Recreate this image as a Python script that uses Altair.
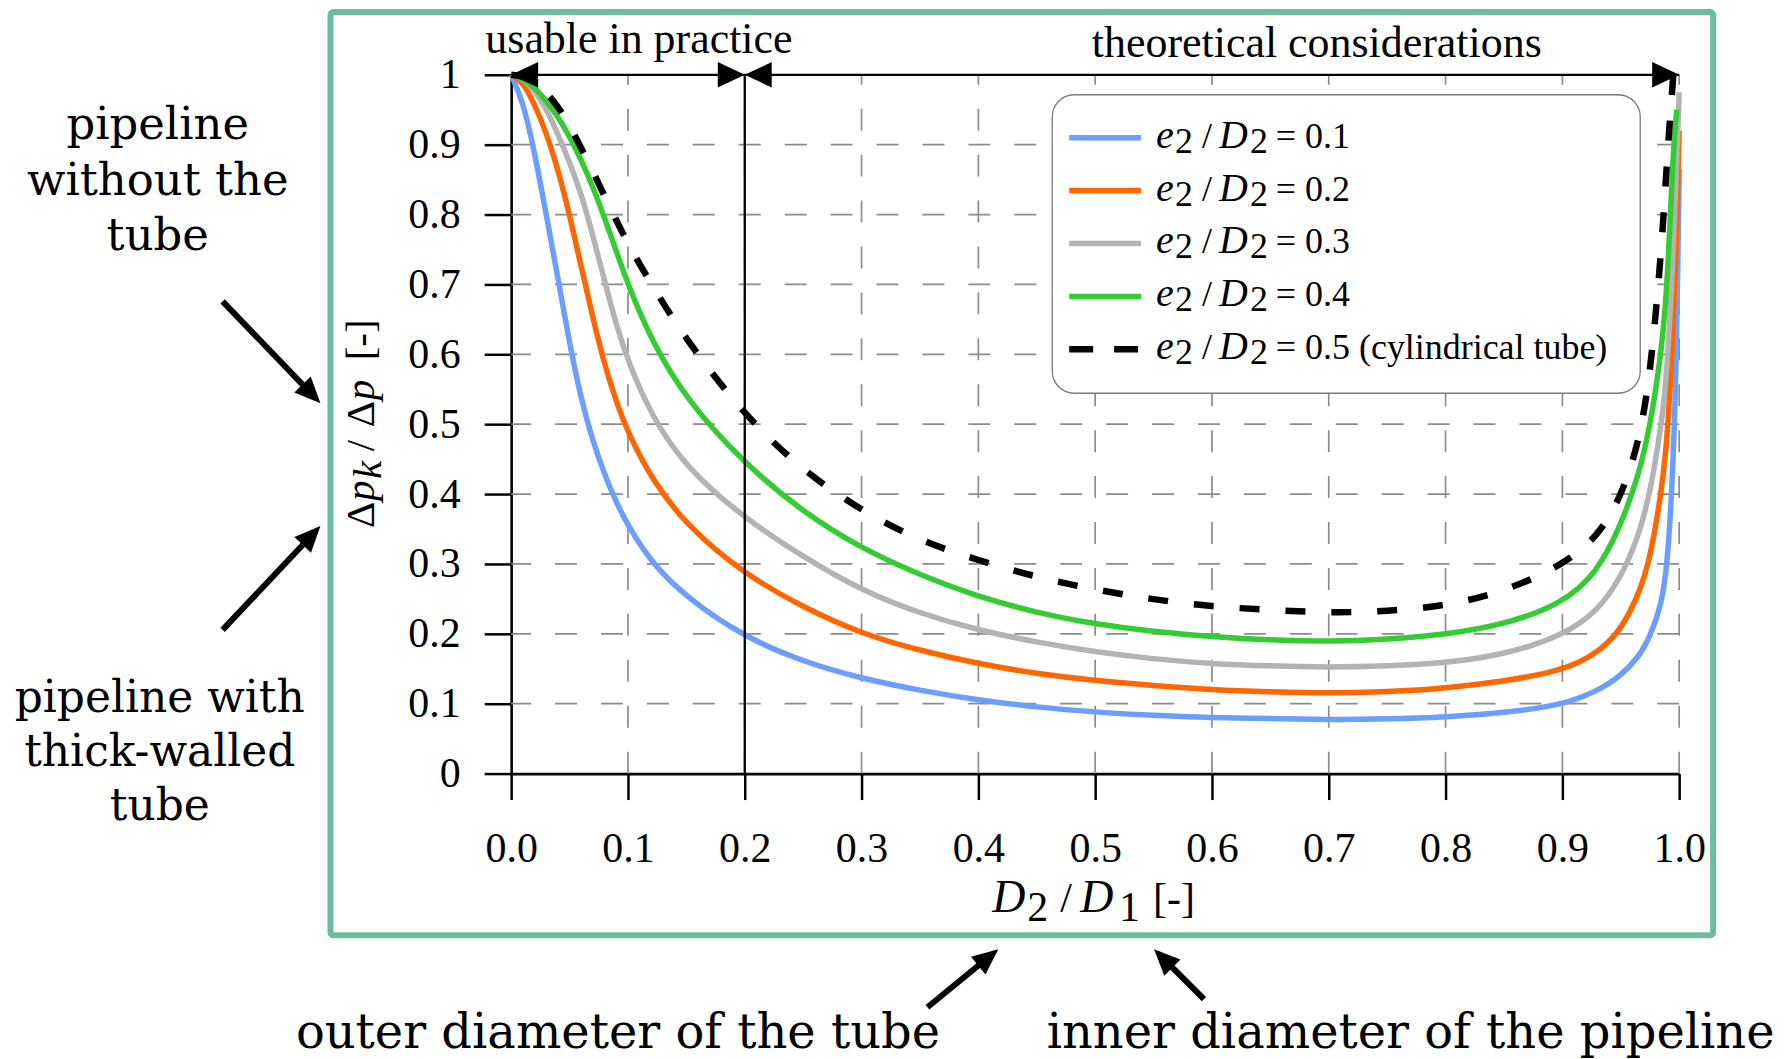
import math
import altair as alt
import pandas as pd

# ------------------------------------------------------------------ data
X = [0.0, 0.01, 0.02, 0.03, 0.04, 0.05, 0.06, 0.07, 0.08, 0.09, 0.10, 0.12, 0.15,
     0.20, 0.25, 0.30, 0.35, 0.40, 0.45, 0.50, 0.55, 0.60, 0.65, 0.70, 0.75, 0.80,
     0.85, 0.90, 0.93, 0.95, 0.965, 0.975, 0.985, 0.99, 0.995, 0.998, 1.0]

Y_E01 = [1.0, 0.963, 0.89, 0.80, 0.71, 0.615, 0.535, 0.475, 0.428, 0.388, 0.355, 0.302, 0.252,
         0.195, 0.160, 0.136, 0.119, 0.105, 0.095, 0.088, 0.083, 0.080, 0.079, 0.077, 0.078, 0.081,
         0.087, 0.098, 0.118, 0.140, 0.166, 0.195, 0.242, 0.30, 0.44, 0.62, 0.865]
Y_E02 = [1.0, 0.99, 0.958, 0.918, 0.865, 0.80, 0.725, 0.652, 0.585, 0.532, 0.488, 0.422, 0.355,
         0.285, 0.238, 0.200, 0.176, 0.157, 0.143, 0.133, 0.126, 0.120, 0.117, 0.115, 0.117, 0.122,
         0.132, 0.147, 0.172, 0.205, 0.255, 0.305, 0.405, 0.48, 0.64, 0.78, 0.92]
Y_E03 = [1.0, 0.995, 0.978, 0.952, 0.915, 0.875, 0.83, 0.77, 0.705, 0.642, 0.59, 0.512, 0.437,
         0.365, 0.31, 0.262, 0.229, 0.205, 0.188, 0.174, 0.164, 0.157, 0.154, 0.152, 0.154, 0.158,
         0.170, 0.197, 0.232, 0.28, 0.338, 0.40, 0.50, 0.58, 0.75, 0.88, 0.975]
Y_E04 = [1.0, 0.995, 0.982, 0.963, 0.94, 0.912, 0.878, 0.84, 0.795, 0.748, 0.70, 0.62, 0.535,
         0.443, 0.374, 0.322, 0.284, 0.253, 0.230, 0.214, 0.203, 0.196, 0.191, 0.189, 0.192, 0.199,
         0.213, 0.243, 0.288, 0.355, 0.425, 0.495, 0.605, 0.70, 0.90, 0.95, None]
Y_E05 = [1.0, 0.998, 0.99, 0.975, 0.955, 0.928, 0.895, 0.862, 0.826, 0.792, 0.758, 0.70, 0.62,
         0.512, 0.433, 0.376, 0.333, 0.305, 0.281, 0.263, 0.249, 0.239, 0.234, 0.230, 0.232, 0.240,
         0.260, 0.298, 0.338, 0.395, 0.47, 0.565, 0.75, 0.89, 1.0, None, None]

SERIES = ["0.1", "0.2", "0.3", "0.4", "0.5 (cylindrical tube)"]
COLORS = ["#6a9eff", "#ff6600", "#b3b3b3", "#33cc33", "#000000"]

X_TICKS = [0.0, 0.1, 0.2, 0.3, 0.4, 0.5, 0.6, 0.7, 0.8, 0.9, 1.0]
Y_TICKS = [0.0, 0.1, 0.2, 0.3, 0.4, 0.5, 0.6, 0.7, 0.8, 0.9, 1.0]
GRID_X = [0.1, 0.2, 0.3, 0.4, 0.5, 0.6, 0.7, 0.8, 0.9, 1.0]
GRID_Y = [0.1, 0.2, 0.3, 0.4, 0.5, 0.6, 0.7, 0.8, 0.9]
BOUNDS = [0.0, 0.2, 1.0]
REGION_LABELS = ["usable in practice", "theoretical considerations"]

# ------------------------------------------------------------------ helpers
SERIF = "Liberation Serif"
ANN = "DejaVu Serif"
ONE = pd.DataFrame({"k": [0]})

XS = alt.Scale(domain=[0, 1], nice=False, zero=False)
YS = alt.Scale(domain=[0, 1], nice=False, zero=False)
CS = alt.Scale(domain=SERIES, range=COLORS)

x_axis = alt.Axis(values=X_TICKS, format=".1f", labelFont=SERIF, labelFontSize=42, labelColor="black",
                  labelBaseline="alphabetic", labelPadding=62, labelFlush=False, labelOverlap=False,
                  tickColor="black", tickWidth=2.5, tickSize=26, domainColor="black", domainWidth=2.6,
                  grid=False, title="")
y_axis = alt.Axis(values=Y_TICKS,
                  labelExpr="datum.value == 1 ? '1' : (datum.value == 0 ? '0' : format(datum.value, '.1f'))",
                  labelFont=SERIF, labelFontSize=42, labelColor="black", labelPadding=24, labelFlush=False,
                  labelOverlap=False, tickColor="black", tickWidth=2.5, tickSize=27, domainColor="black",
                  domainWidth=2.6, grid=False, title="")


def XQ(field):
    return alt.X(field, scale=XS, axis=x_axis)


def YQ(field):
    return alt.Y(field, scale=YS, axis=y_axis)


rows = []
for name, ys in zip(SERIES, [Y_E01, Y_E02, Y_E03, Y_E04, Y_E05]):
    for xv, yv in zip(X, ys):
        if yv is not None:
            rows.append({"x": xv, "y": yv, "series": name})
curves = pd.DataFrame(rows)


def text_at(s, x, y, size, font=SERIF, style="normal", align="left", angle=0):
    return alt.Chart(pd.DataFrame({"t": [s]})).mark_text(
        font=font, fontSize=size, fontStyle=style, align=align,
        baseline="alphabetic", angle=angle, color="black"
    ).encode(text="t:N", x=alt.value(x), y=alt.value(y))


HEAD_R = "M 0 0 L -1 -0.44 L -1 0.44 Z"
HEAD_L = "M 0 0 L 1 -0.47 L 1 0.47 Z"
HEAD_R2 = "M 0 0 L -1 -0.47 L -1 0.47 Z"


def arrow(tail, tip, head_len=26, width=6):
    dx, dy = tip[0] - tail[0], tip[1] - tail[1]
    L = math.hypot(dx, dy)
    ux, uy = dx / L, dy / L
    ang = math.degrees(math.atan2(dy, dx)) % 360
    end = (tip[0] - ux * head_len * 0.7, tip[1] - uy * head_len * 0.7)
    shaft = alt.Chart(ONE).mark_rule(color="black", strokeWidth=width, strokeCap="butt").encode(
        x=alt.value(tail[0]), y=alt.value(tail[1]), x2=alt.value(end[0]), y2=alt.value(end[1]))
    head = alt.Chart(ONE).mark_point(shape=HEAD_R, filled=True, color="black", opacity=1,
                                     size=(2 * head_len) ** 2, angle=ang, strokeWidth=0).encode(
        x=alt.value(tip[0]), y=alt.value(tip[1]))
    return [shaft, head]


layers = []

solid = curves[curves["series"] != SERIES[-1]]
dashed = curves[curves["series"] == SERIES[-1]]

# outer green frame
layers.append(alt.Chart(ONE).mark_rect(filled=False, stroke="#6cbd9c", strokeWidth=6, cornerRadius=3).encode(
    x=alt.value(-181), x2=alt.value(1204), y=alt.value(-63), y2=alt.value(862)))

# dashed grid
hgrid = pd.DataFrame({"y": GRID_Y, "xa": [1.0] * len(GRID_Y), "xb": [0.0] * len(GRID_Y)})
layers.append(alt.Chart(hgrid).mark_rule(color="#8c8c8c", strokeWidth=1.7, strokeDash=[22, 24]).encode(
    x=XQ("xa:Q"), x2="xb:Q", y=YQ("y:Q")))
vgrid = pd.DataFrame({"x": GRID_X, "ya": [0.0] * len(GRID_X), "yb": [1.0] * len(GRID_X)})
layers.append(alt.Chart(vgrid).mark_rule(color="#8c8c8c", strokeWidth=1.7, strokeDash=[22, 24]).encode(
    x=XQ("x:Q"), y=YQ("ya:Q"), y2="yb:Q"))

# curves
layers.append(alt.Chart(solid).mark_line(strokeWidth=5.5, interpolate="basis").encode(
    x=XQ("x:Q"), y=YQ("y:Q"),
    color=alt.Color("series:N", scale=CS, legend=None),
    order=alt.Order("x:Q")))
layers.append(alt.Chart(dashed).mark_line(strokeWidth=6.5, strokeDash=[20, 26], interpolate="basis").encode(
    x=XQ("x:Q"), y=YQ("y:Q"),
    color=alt.Color("series:N", scale=CS, legend=None),
    order=alt.Order("x:Q")))

# region markers: top line, divider, arrowheads
top = pd.DataFrame({"xa": [BOUNDS[0]], "xb": [BOUNDS[-1]], "y": [1.0]})
layers.append(alt.Chart(top).mark_rule(color="black", strokeWidth=2.3).encode(
    x=XQ("xa:Q"), x2="xb:Q", y=YQ("y:Q")))
div = pd.DataFrame({"x": [BOUNDS[1]], "ya": [0.0], "yb": [1.0]})
layers.append(alt.Chart(div).mark_rule(color="black", strokeWidth=2.3).encode(
    x=XQ("x:Q"), y=YQ("ya:Q"), y2="yb:Q"))
left_heads = pd.DataFrame({"x": BOUNDS[:-1], "y": [1.0] * (len(BOUNDS) - 1)})
right_heads = pd.DataFrame({"x": BOUNDS[1:], "y": [1.0] * (len(BOUNDS) - 1)})
layers.append(alt.Chart(left_heads).mark_point(shape=HEAD_L, filled=True, color="black", opacity=1,
                                               size=54 ** 2, strokeWidth=0).encode(
    x=XQ("x:Q"), y=YQ("y:Q")))
layers.append(alt.Chart(right_heads).mark_point(shape=HEAD_R2, filled=True, color="black", opacity=1,
                                                size=54 ** 2, strokeWidth=0).encode(
    x=XQ("x:Q"), y=YQ("y:Q")))
layers.append(text_at(REGION_LABELS[0], 128, -22, 44, align="center"))
layers.append(text_at(REGION_LABELS[1], 807, -18, 44, align="center"))

# legend
layers.append(alt.Chart(ONE).mark_rect(fill="white", stroke="#7a7a7a", strokeWidth=1.3, cornerRadius=22).encode(
    x=alt.value(542), x2=alt.value(1131), y=alt.value(20), y2=alt.value(319)))
leg = pd.DataFrame({"series": SERIES})
leg["py"] = [63 + 53 * i for i in range(len(SERIES))]
leg["pyb"] = leg["py"] + 10
leg["pys"] = leg["py"] + 15
leg["tail"] = ["= " + s for s in SERIES]
layers.append(alt.Chart(leg.iloc[:-1]).mark_rule(strokeWidth=5.5).encode(
    x=alt.value(559), x2=alt.value(631), y=alt.Y("py:Q", scale=None, axis=None),
    color=alt.Color("series:N", scale=CS, legend=None)))
layers.append(alt.Chart(leg.iloc[-1:]).mark_rule(strokeWidth=6.5, strokeDash=[24, 21]).encode(
    x=alt.value(559), x2=alt.value(631), y=alt.Y("py:Q", scale=None, axis=None),
    color=alt.Color("series:N", scale=CS, legend=None)))
for seg, xpos, yfield, style, size in [("e", 646, "pyb", "italic", 40), ("2", 665, "pys", "normal", 36),
                                       ("/", 692, "pyb", "normal", 36), ("D", 709, "pyb", "italic", 40),
                                       ("2", 740, "pys", "normal", 36)]:
    layers.append(alt.Chart(leg).mark_text(font=SERIF, fontSize=size, fontStyle=style, align="left",
                                           baseline="alphabetic", color="black").encode(
        text=alt.value(seg), x=alt.value(xpos), y=alt.Y(yfield + ":Q", scale=None, axis=None)))
layers.append(alt.Chart(leg).mark_text(font=SERIF, fontSize=36, align="left", baseline="alphabetic",
                                       color="black").encode(
    text="tail:N", x=alt.value(766), y=alt.Y("pyb:Q", scale=None, axis=None)))

# axis titles (composed from pieces: italic symbols, lowered indices)
for seg, xpos, ypos, style, size in [("D", 482, 839, "italic", 46), ("2", 517, 848, "normal", 42),
                                     ("/", 550, 839, "normal", 42), ("D", 570, 839, "italic", 46),
                                     ("1", 609, 848, "normal", 42), ("[-]", 643, 839, "normal", 42)]:
    layers.append(text_at(seg, xpos, ypos, size, style=style))
for seg, xpos, ypos, style in [("Δ", -137, 454, "normal"), ("p", -137, 427, "italic"),
                               ("k", -130, 405, "italic"), ("/", -137, 377, "normal"),
                               ("Δ", -137, 353, "normal"), ("p", -137, 326, "italic"),
                               ("[-]", -137, 286, "normal")]:
    layers.append(text_at(seg, xpos, ypos, 41, style=style, angle=270))

# side / bottom annotations
for line, ypos in zip(["pipeline", "without the", "tube"], [64, 120, 176]):
    layers.append(text_at(line, -354, ypos, 45, font=ANN, align="center"))
for line, ypos in zip(["pipeline with", "thick-walled", "tube"], [638, 692, 746]):
    layers.append(text_at(line, -352, ypos, 44, font=ANN, align="center"))
layers.append(text_at("outer diameter of the tube", 107, 975, 48, font=ANN, align="center"))
layers.append(text_at("inner diameter of the pipeline", 901, 975, 48, font=ANN, align="center"))

layers += arrow((-289, 227), (-191, 329))
layers += arrow((-289, 556), (-191, 452))
layers += arrow((417, 934), (488, 876))
layers += arrow((694, 926), (644, 876))

chart = alt.layer(*layers).properties(
    width=1170, height=700,
    autosize=alt.AutoSizeParams(type="none"),
    padding={"left": 504, "top": 66, "right": 100, "bottom": 285},
).configure_view(strokeWidth=0)

chart.save("out.html", embed_options={"renderer": "svg", "actions": False})
